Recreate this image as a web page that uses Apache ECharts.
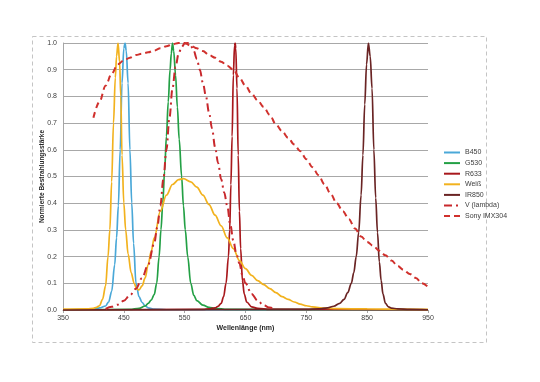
<!DOCTYPE html>
<html><head><meta charset="utf-8">
<script src="https://cdn.jsdelivr.net/npm/echarts@6/dist/echarts.min.js"></script>
<style>html,body{margin:0;padding:0;background:#fff}#c{width:540px;height:382px}</style>
</head><body><div id="c"></div>
<script>
const seriesNames = ["B450", "G530", "R633", "Weiß", "IR850", "V (lambda)", "Sony IMX304"];
const yTicks = [0, 0.1, 0.2, 0.3, 0.4, 0.5, 0.6, 0.7, 0.8, 0.9, 1.0];
const xTicks = [350, 450, 550, 650, 750, 850, 950];

const b450Wl  = [350, 400, 410, 420, 425, 430, 435, 438, 441, 444, 447, 450, 452, 454, 457, 460, 463, 466, 470, 475, 480, 485, 490, 500, 520, 950];
const b450Val = [0, 0.003, 0.008, 0.015, 0.03, 0.07, 0.17, 0.27, 0.39, 0.6, 0.85, 0.98, 1.0, 0.97, 0.85, 0.6, 0.4, 0.25, 0.1, 0.05, 0.028, 0.016, 0.008, 0.003, 0.001, 0];

const g530Wl  = [350, 460, 475, 485, 490, 495, 500, 504, 508, 511, 514, 517, 520, 523, 526, 528, 530, 532, 535, 538, 541, 545, 548, 551, 555, 560, 565, 570, 580, 590, 600, 620, 950];
const g530Val = [0, 0.002, 0.006, 0.015, 0.025, 0.037, 0.058, 0.1, 0.2, 0.3, 0.4, 0.52, 0.65, 0.78, 0.9, 0.96, 1.0, 0.97, 0.88, 0.76, 0.64, 0.5, 0.39, 0.3, 0.2, 0.1, 0.055, 0.035, 0.018, 0.01, 0.006, 0.002, 0];

const r633Wl  = [350, 580, 590, 600, 605, 610, 614, 618, 622, 624, 626, 628, 630, 632, 633, 634, 636, 638, 640, 642, 645, 648, 652, 660, 670, 690, 950];
const r633Val = [0, 0.002, 0.004, 0.008, 0.014, 0.025, 0.05, 0.1, 0.2, 0.3, 0.47, 0.65, 0.88, 0.99, 1.0, 0.98, 0.83, 0.58, 0.37, 0.23, 0.11, 0.06, 0.03, 0.012, 0.006, 0.002, 0];

const weissWl  = [350, 390, 400, 405, 410, 415, 420, 424, 427, 430, 433, 436, 438, 440.5, 443, 445, 447, 450, 453, 457, 462, 467, 471, 475, 480, 485, 490, 495, 500, 510, 520, 530, 540, 548, 560, 570, 580, 590, 600, 610, 620, 630, 640, 650, 660, 670, 680, 690, 700, 710, 720, 730, 740, 750, 760, 780, 800, 850, 950];
const weissVal = [0.003, 0.004, 0.006, 0.01, 0.016, 0.04, 0.09, 0.2, 0.3, 0.48, 0.7, 0.87, 0.95, 1.0, 0.93, 0.8, 0.58, 0.4, 0.3, 0.21, 0.14, 0.1, 0.08, 0.075, 0.09, 0.12, 0.17, 0.22, 0.27, 0.37, 0.43, 0.47, 0.488, 0.492, 0.48, 0.46, 0.43, 0.395, 0.355, 0.315, 0.27, 0.23, 0.185, 0.155, 0.13, 0.11, 0.095, 0.08, 0.065, 0.05, 0.04, 0.03, 0.022, 0.016, 0.012, 0.007, 0.005, 0.004, 0.002];

const ir850Wl  = [350, 750, 770, 785, 795, 805, 812, 818, 824, 828, 832, 836, 840, 843, 846, 849, 852, 855, 858, 861, 864, 867, 870, 873, 876, 880, 885, 890, 900, 920, 950];
const ir850Val = [0, 0.002, 0.004, 0.008, 0.014, 0.025, 0.04, 0.065, 0.1, 0.14, 0.2, 0.29, 0.43, 0.58, 0.77, 0.92, 1.0, 0.95, 0.83, 0.6, 0.42, 0.29, 0.18, 0.11, 0.06, 0.025, 0.012, 0.007, 0.004, 0.002, 0.001];

const vLambdaWl  = [420, 430, 440, 450, 460, 470, 480, 490, 500, 505, 510, 515, 520, 525, 530, 535, 540, 545, 550, 555, 560, 565, 570, 575, 580, 585, 590, 595, 600, 605, 610, 615, 620, 625, 630, 635, 640, 645, 650, 660, 670, 680, 690, 700];
const vLambdaVal = [0.004, 0.012, 0.02, 0.035, 0.055, 0.08, 0.12, 0.17, 0.25, 0.31, 0.39, 0.49, 0.6, 0.72, 0.83, 0.91, 0.96, 0.985, 0.998, 1.0, 0.99, 0.97, 0.94, 0.9, 0.85, 0.8, 0.74, 0.68, 0.61, 0.55, 0.49, 0.44, 0.39, 0.32, 0.26, 0.21, 0.175, 0.13, 0.1, 0.06, 0.035, 0.017, 0.009, 0.004];

const sonyWl  = [400, 410, 420, 430, 440, 450, 460, 470, 480, 490, 500, 510, 520, 530, 540, 550, 560, 570, 580, 590, 600, 610, 620, 630, 640, 650, 660, 670, 680, 690, 700, 710, 720, 730, 740, 750, 760, 770, 780, 790, 800, 810, 820, 830, 840, 850, 860, 870, 880, 890, 900, 910, 920, 930, 940, 950];
const sonyVal = [0.72, 0.78, 0.84, 0.885, 0.92, 0.935, 0.945, 0.955, 0.96, 0.965, 0.972, 0.98, 0.988, 0.995, 1.0, 1.0, 0.99, 0.98, 0.97, 0.955, 0.945, 0.93, 0.915, 0.9, 0.87, 0.84, 0.81, 0.785, 0.76, 0.73, 0.695, 0.67, 0.645, 0.62, 0.595, 0.565, 0.535, 0.505, 0.47, 0.435, 0.4, 0.37, 0.34, 0.305, 0.275, 0.255, 0.24, 0.222, 0.205, 0.185, 0.165, 0.15, 0.135, 0.12, 0.1, 0.087];

const pairs = (w, v) => w.map((x, i) => [x, v[i]]);
const FONT = "'Liberation Sans Narrow', 'Liberation Sans', 'DejaVu Sans', sans-serif";

const styles = [
  { color: '#4AA8D8', width: 1.7, type: 'solid' },
  { color: '#23A045', width: 1.7, type: 'solid' },
  { color: '#A8181C', width: 1.7, type: 'solid' },
  { color: '#F2B21E', width: 1.7, type: 'solid' },
  { color: '#6A2424', width: 1.7, type: 'solid' },
  { color: '#C8282C', width: 2, type: [8, 4, 2, 4] },
  { color: '#D0312D', width: 2, type: [6, 4] }
];
const dataSets = [
  pairs(b450Wl, b450Val), pairs(g530Wl, g530Val), pairs(r633Wl, r633Val),
  pairs(weissWl, weissVal), pairs(ir850Wl, ir850Val),
  pairs(vLambdaWl, vLambdaVal), pairs(sonyWl, sonyVal)
];

const chart = echarts.init(document.getElementById('c'), null, { renderer: 'canvas' });
chart.setOption({
  animation: false,
  backgroundColor: '#fff',
  graphic: [{
    type: 'rect', silent: true, z: -1,
    shape: { x: 32.5, y: 36.5, width: 454, height: 306 },
    style: { fill: 'none', stroke: '#C4C4C4', lineWidth: 1, lineDash: [4, 3] }
  }],
  grid: { left: 63, right: 112, top: 43, bottom: 72, containLabel: false },
  legend: {
    orient: 'vertical', left: 443, top: 149, padding: 0,
    itemWidth: 16, itemHeight: 8, itemGap: 3.6,
    itemStyle: { opacity: 0 },
    textStyle: { fontFamily: FONT, fontSize: 7, color: '#404040' },
    data: seriesNames
  },
  xAxis: {
    type: 'value', min: 350, max: 950, interval: 100,
    name: 'Wellenlänge (nm)', nameLocation: 'middle', nameGap: 15, nameMoveOverlap: false,
    nameTextStyle: { fontFamily: FONT, fontSize: 7, fontWeight: 'bold', color: '#262626' },
    axisLine: { show: true, lineStyle: { color: '#A6A6A6', width: 1 } },
    axisTick: { show: true, length: 3, lineStyle: { color: '#A6A6A6' } },
    axisLabel: { margin: 5, fontFamily: FONT, fontSize: 7, color: '#404040' },
    splitLine: { show: false }
  },
  yAxis: {
    type: 'value', min: 0, max: 1, interval: 0.1,
    name: 'Normierte Bestrahlungsstärke', nameLocation: 'middle', nameGap: 17, nameMoveOverlap: false,
    nameTextStyle: { fontFamily: FONT, fontSize: 6.5, fontWeight: 'bold', color: '#262626' },
    axisLine: { show: true, lineStyle: { color: '#A6A6A6', width: 1 } },
    axisTick: { show: false },
    axisLabel: { margin: 6, fontFamily: FONT, fontSize: 7, color: '#404040', formatter: v => v.toFixed(1) },
    splitLine: { show: true, lineStyle: { color: '#A8A8A8', width: 1.2 } }
  },
  series: seriesNames.map((name, i) => ({
    name, type: 'line', data: dataSets[i],
    showSymbol: false, symbol: 'none', smooth: 0.35, smoothMonotone: 'x',
    lineStyle: { color: styles[i].color, width: styles[i].width, type: styles[i].type },
    itemStyle: { color: styles[i].color },
    emphasis: { disabled: true }
  }))
});
</script></body></html>
